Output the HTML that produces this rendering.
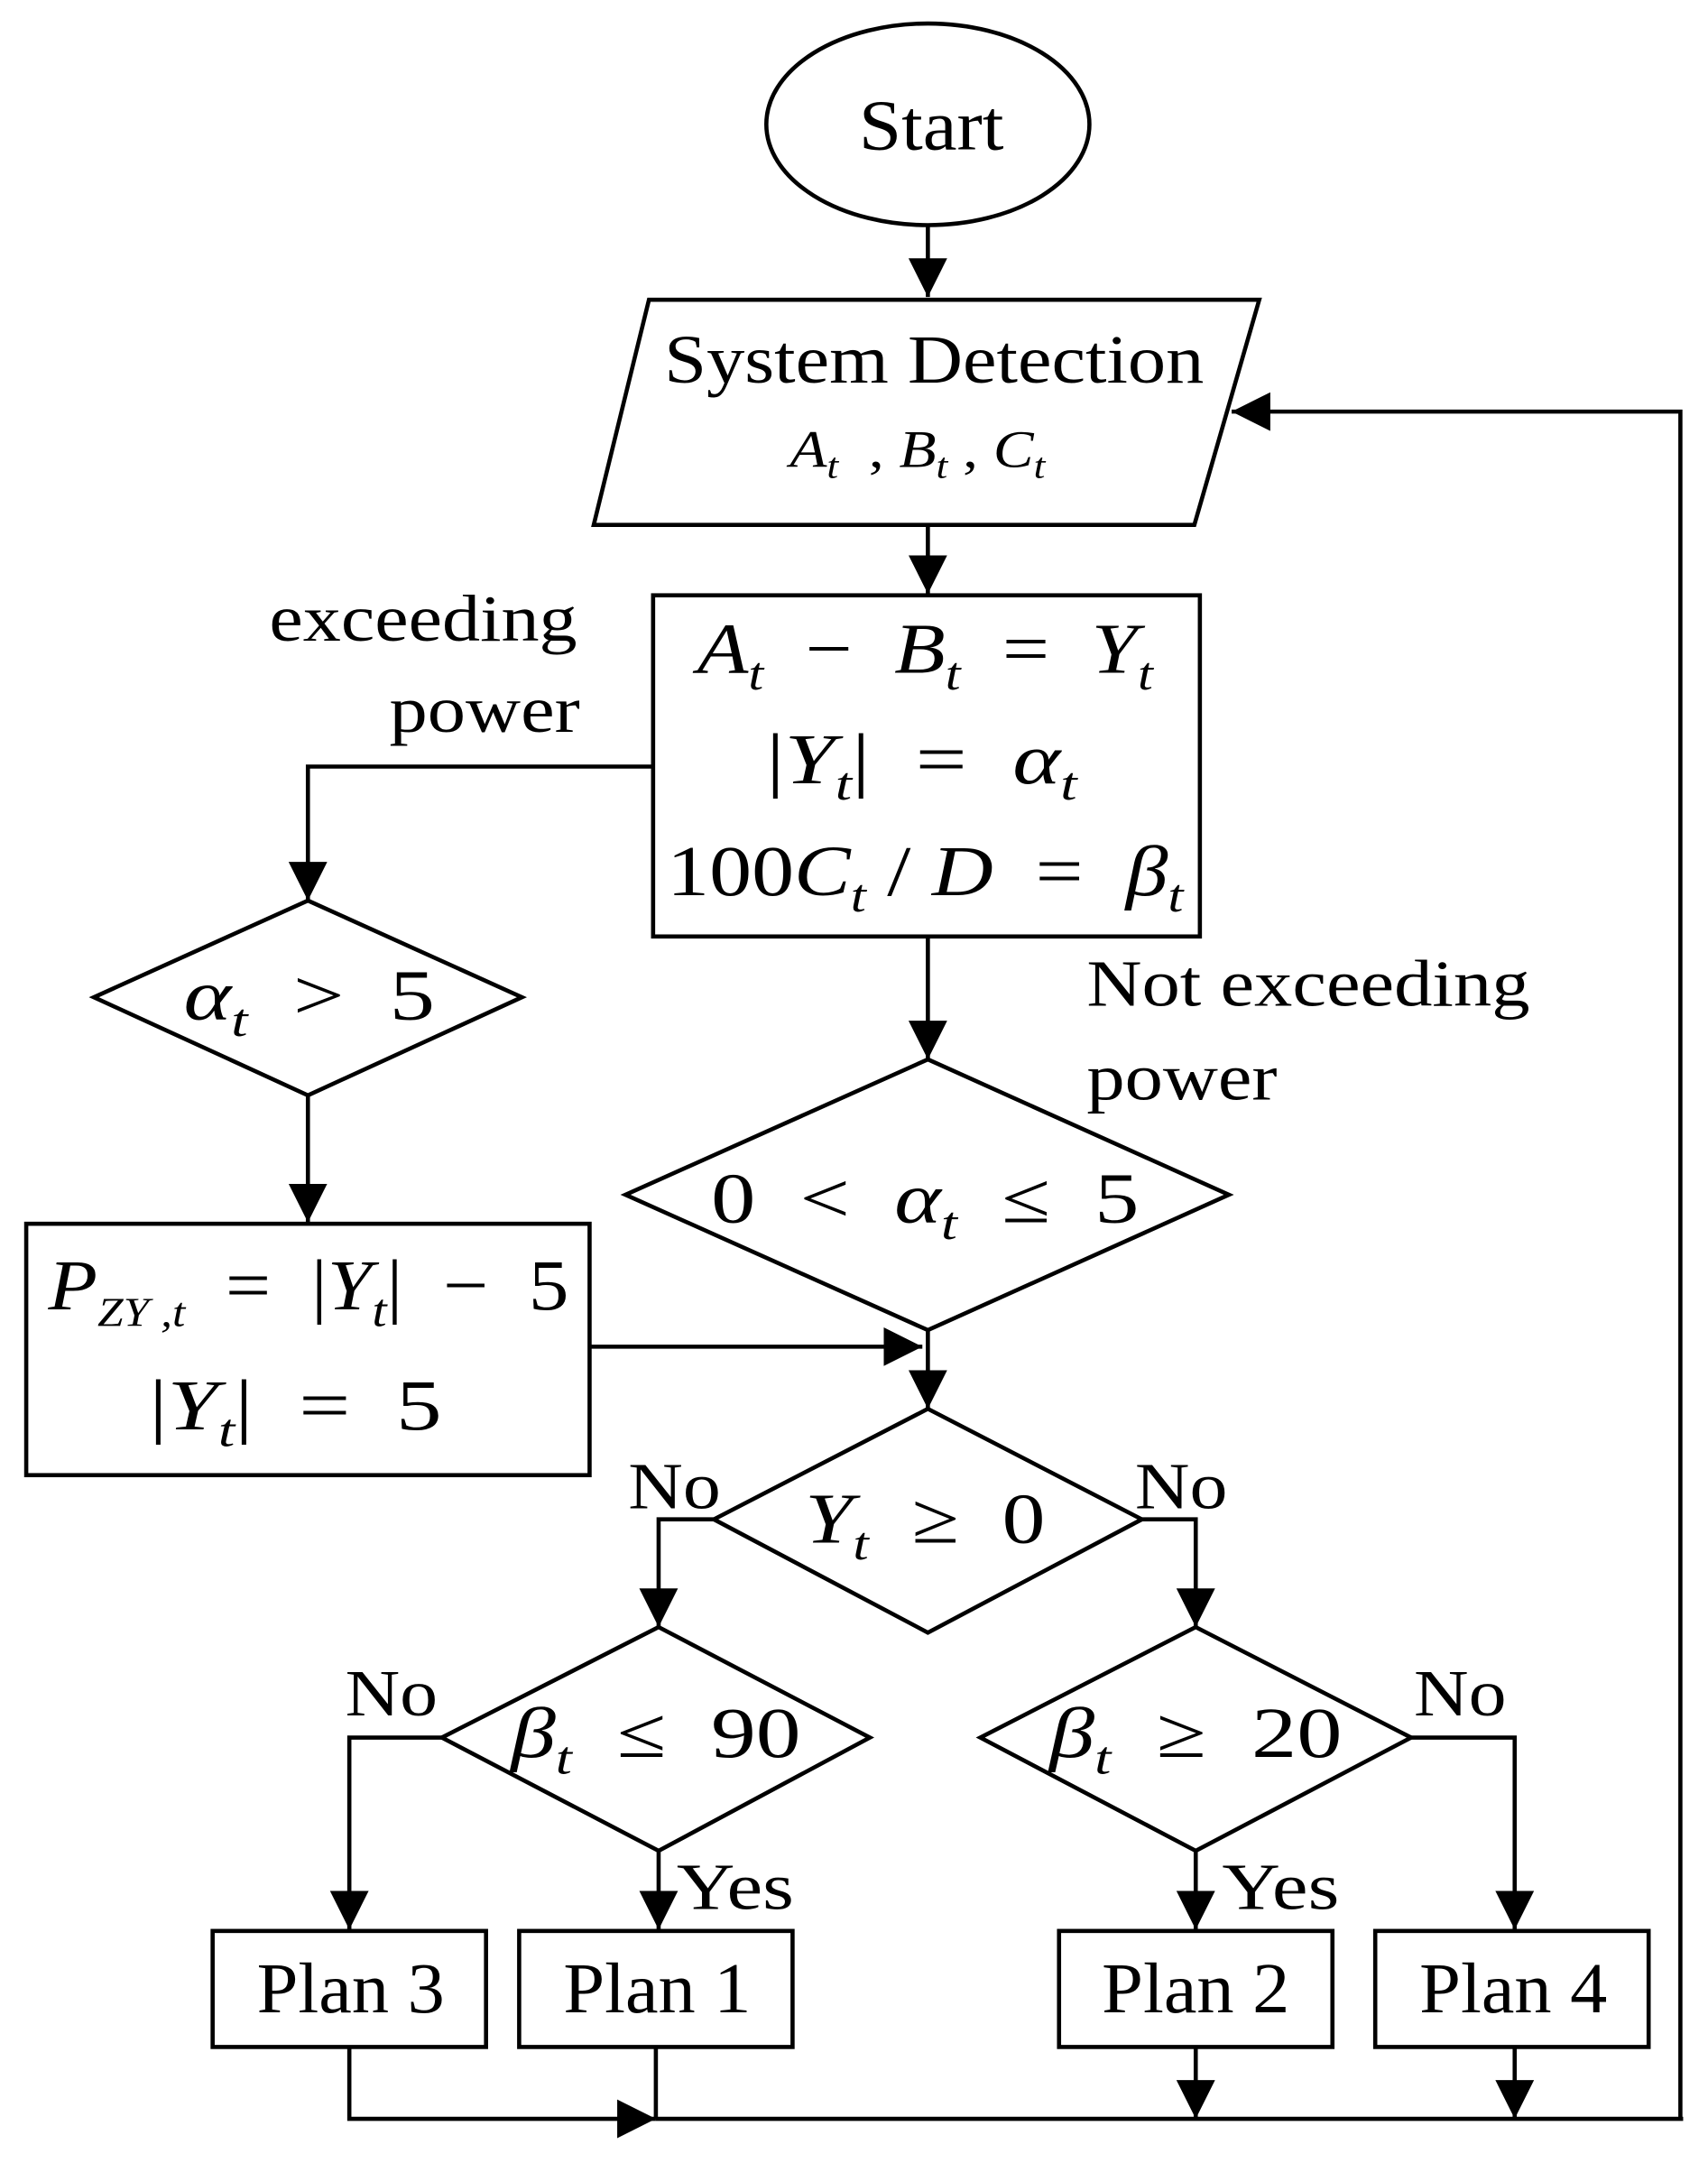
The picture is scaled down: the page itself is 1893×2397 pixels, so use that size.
<!DOCTYPE html>
<html><head><meta charset="utf-8"><style>html,body{margin:0;padding:0;background:#fff}svg{display:block}</style></head>
<body>
<svg width="1893" height="2397" viewBox="0 0 1237 1566" preserveAspectRatio="none" xmlns="http://www.w3.org/2000/svg" font-family="Liberation Serif, serif" fill="#000">
<defs><marker id="a" markerWidth="30" markerHeight="30" refX="28" refY="14" orient="auto" markerUnits="userSpaceOnUse"><path d="M0,0 L28,14 L0,28 Z"/></marker></defs>
<g stroke="#000" stroke-width="3" fill="none">
<ellipse cx="672" cy="90" rx="117" ry="73"/>
<line x1="672" y1="163" x2="672" y2="215" marker-end="url(#a)"/>
<polygon points="470,217 912,217 865,380 430,380"/>
<polyline points="1217,1534 1217,298 892,298" marker-end="url(#a)"/>
<line x1="672" y1="380" x2="672" y2="430" marker-end="url(#a)"/>
<rect x="473" y="431" width="396" height="247"/>
<polyline points="473,555 223,555 223,652" marker-end="url(#a)"/>
<polygon points="223,652 378,722 223,793 68,722"/>
<line x1="223" y1="793" x2="223" y2="885" marker-end="url(#a)"/>
<rect x="19" y="886" width="408" height="182"/>
<line x1="427" y1="975" x2="668" y2="975" marker-end="url(#a)"/>
<line x1="672" y1="678" x2="672" y2="767" marker-end="url(#a)"/>
<polygon points="672,767 890,865 672,963 453,865"/>
<line x1="672" y1="963" x2="672" y2="1020" marker-end="url(#a)"/>
<polygon points="672,1020 827,1100 672,1182 517,1100"/>
<polyline points="517,1100 477,1100 477,1178" marker-end="url(#a)"/>
<polyline points="827,1100 866,1100 866,1178" marker-end="url(#a)"/>
<polygon points="477,1178 630,1258 477,1340 320,1258"/>
<polygon points="866,1178 1022,1258 866,1340 710,1258"/>
<polyline points="320,1258 253,1258 253,1397" marker-end="url(#a)"/>
<line x1="477" y1="1340" x2="477" y2="1397" marker-end="url(#a)"/>
<line x1="866" y1="1340" x2="866" y2="1397" marker-end="url(#a)"/>
<polyline points="1022,1258 1097,1258 1097,1397" marker-end="url(#a)"/>
<rect x="154" y="1398" width="198" height="84"/>
<rect x="376" y="1398" width="198" height="84"/>
<rect x="767" y="1398" width="198" height="84"/>
<rect x="996" y="1398" width="198" height="84"/>
<polyline points="253,1482 253,1534 475,1534" marker-end="url(#a)"/>
<line x1="475" y1="1482" x2="475" y2="1534"/>
<line x1="475" y1="1534" x2="1219" y2="1534"/>
<line x1="866" y1="1482" x2="866" y2="1534" marker-end="url(#a)"/>
<line x1="1097" y1="1482" x2="1097" y2="1534" marker-end="url(#a)"/>
</g>
<g font-size="52" lengthAdjust="spacingAndGlyphs">
<text x="622" y="108" font-size="52" textLength="105" lengthAdjust="spacingAndGlyphs">Start</text>
<text x="481" y="277" font-size="50" textLength="391" lengthAdjust="spacingAndGlyphs">System Detection</text>
<text x="572" y="338" font-size="38" textLength="185" lengthAdjust="spacingAndGlyphs" xml:space="preserve"><tspan font-style="italic">A</tspan><tspan font-style="italic" font-size="26" dy="8">t</tspan><tspan dy="-8">  , </tspan><tspan font-style="italic">B</tspan><tspan font-style="italic" font-size="26" dy="8">t</tspan><tspan dy="-8"> , </tspan><tspan font-style="italic">C</tspan><tspan font-style="italic" font-size="26" dy="8">t</tspan></text>
<text x="505" y="487" textLength="330" lengthAdjust="spacingAndGlyphs" xml:space="preserve"><tspan font-style="italic">A</tspan><tspan font-style="italic" font-size="34" dy="12">t</tspan><tspan dy="-12">  −  </tspan><tspan font-style="italic">B</tspan><tspan font-style="italic" font-size="34" dy="12">t</tspan><tspan dy="-12">  =  </tspan><tspan font-style="italic">Y</tspan><tspan font-style="italic" font-size="34" dy="12">t</tspan></text>
<text x="555" y="567" textLength="225" lengthAdjust="spacingAndGlyphs" xml:space="preserve">|<tspan font-style="italic">Y</tspan><tspan font-style="italic" font-size="34" dy="12">t</tspan><tspan dy="-12">|  =  </tspan><tspan font-style="italic">α</tspan><tspan font-style="italic" font-size="34" dy="12">t</tspan></text>
<text x="483" y="648" textLength="374" lengthAdjust="spacingAndGlyphs" xml:space="preserve">100<tspan font-style="italic">C</tspan><tspan font-style="italic" font-size="34" dy="12">t</tspan><tspan dy="-12"> / </tspan><tspan font-style="italic">D</tspan><tspan>  =  </tspan><tspan font-style="italic">β</tspan><tspan font-style="italic" font-size="34" dy="12">t</tspan></text>
<text x="195" y="464" font-size="48" textLength="223" lengthAdjust="spacingAndGlyphs">exceeding</text>
<text x="282" y="530" font-size="48" textLength="138" lengthAdjust="spacingAndGlyphs">power</text>
<text x="787" y="728" font-size="48" textLength="321" lengthAdjust="spacingAndGlyphs">Not exceeding</text>
<text x="787" y="796" font-size="48" textLength="138" lengthAdjust="spacingAndGlyphs">power</text>
<text x="133" y="738" textLength="182" lengthAdjust="spacingAndGlyphs" xml:space="preserve"><tspan font-style="italic">α</tspan><tspan font-style="italic" font-size="34" dy="12">t</tspan><tspan dy="-12">  &gt;  5</tspan></text>
<text x="35" y="948" textLength="377" lengthAdjust="spacingAndGlyphs" xml:space="preserve"><tspan font-style="italic">P</tspan><tspan font-style="italic" font-size="30" dy="12">ZY ,t</tspan><tspan dy="-12">  =  |</tspan><tspan font-style="italic">Y</tspan><tspan font-style="italic" font-size="34" dy="12">t</tspan><tspan dy="-12">|  −  5</tspan></text>
<text x="108" y="1035" textLength="212" lengthAdjust="spacingAndGlyphs" xml:space="preserve">|<tspan font-style="italic">Y</tspan><tspan font-style="italic" font-size="34" dy="12">t</tspan><tspan dy="-12">|  =  5</tspan></text>
<text x="515" y="885" textLength="310" lengthAdjust="spacingAndGlyphs" xml:space="preserve">0  &lt;  <tspan font-style="italic">α</tspan><tspan font-style="italic" font-size="34" dy="12">t</tspan><tspan dy="-12">  ≤  5</tspan></text>
<text x="583" y="1117" textLength="174" lengthAdjust="spacingAndGlyphs" xml:space="preserve"><tspan font-style="italic">Y</tspan><tspan font-style="italic" font-size="34" dy="12">t</tspan><tspan dy="-12">  ≥  0</tspan></text>
<text x="370" y="1272" textLength="210" lengthAdjust="spacingAndGlyphs" xml:space="preserve"><tspan font-style="italic">β</tspan><tspan font-style="italic" font-size="34" dy="12">t</tspan><tspan dy="-12">  ≤  90</tspan></text>
<text x="760" y="1272" textLength="212" lengthAdjust="spacingAndGlyphs" xml:space="preserve"><tspan font-style="italic">β</tspan><tspan font-style="italic" font-size="34" dy="12">t</tspan><tspan dy="-12">  ≥  20</tspan></text>
<text x="455" y="1092" font-size="48" textLength="67" lengthAdjust="spacingAndGlyphs">No</text>
<text x="822" y="1092" font-size="48" textLength="67" lengthAdjust="spacingAndGlyphs">No</text>
<text x="250" y="1242" font-size="48" textLength="67" lengthAdjust="spacingAndGlyphs">No</text>
<text x="1024" y="1242" font-size="48" textLength="67" lengthAdjust="spacingAndGlyphs">No</text>
<text x="490" y="1382" font-size="48" textLength="85" lengthAdjust="spacingAndGlyphs">Yes</text>
<text x="885" y="1382" font-size="48" textLength="85" lengthAdjust="spacingAndGlyphs">Yes</text>
<text x="186" y="1457" textLength="136" lengthAdjust="spacingAndGlyphs">Plan 3</text>
<text x="408" y="1457" textLength="136" lengthAdjust="spacingAndGlyphs">Plan 1</text>
<text x="798" y="1457" textLength="136" lengthAdjust="spacingAndGlyphs">Plan 2</text>
<text x="1028" y="1457" textLength="136" lengthAdjust="spacingAndGlyphs">Plan 4</text>
</g>
</svg>
</body></html>
